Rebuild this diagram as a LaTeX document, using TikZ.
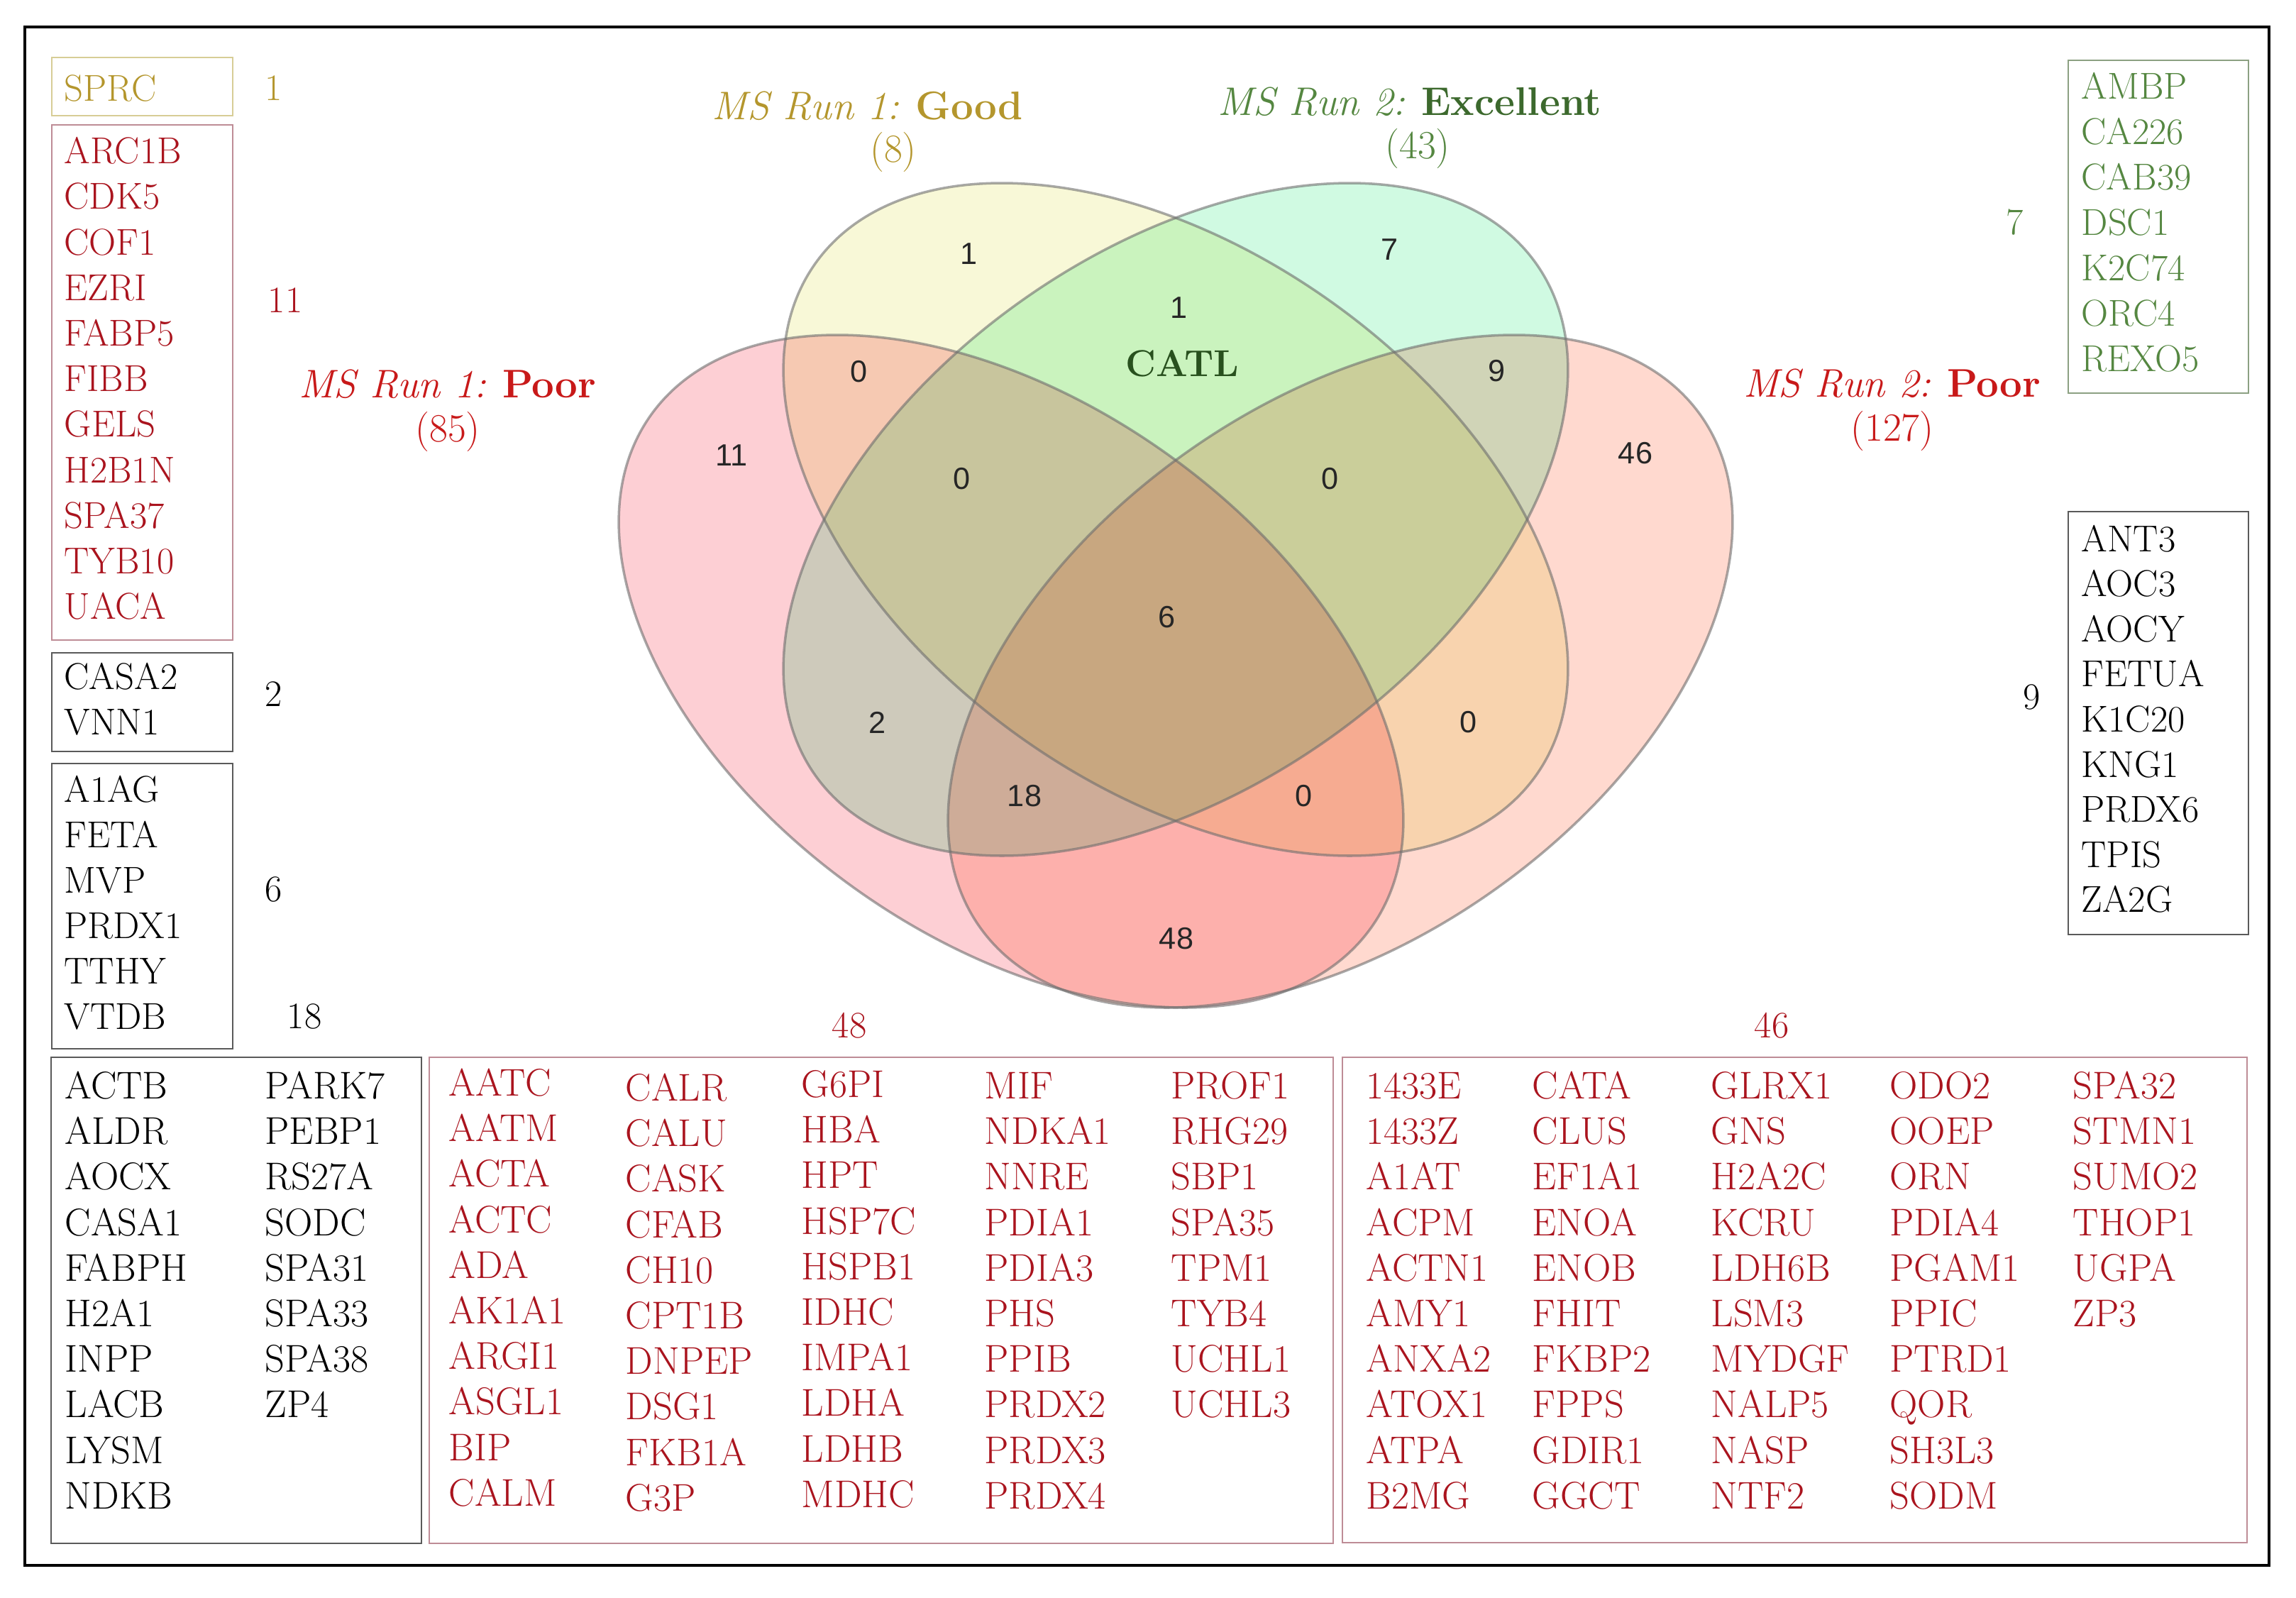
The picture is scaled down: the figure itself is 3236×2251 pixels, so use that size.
\documentclass[tikz,border=0pt]{standalone}
\usepackage{fontspec}
\newfontfamily\arialf{Liberation Sans}
\newcommand\fsG{\fontsize{15pt}{18pt}\selectfont}
\newcommand\fsB{\fontsize{15.5pt}{18pt}\selectfont}
\newcommand\fsN{\arialf\fontsize{12.3pt}{14pt}\selectfont}
\newcommand\fsL{\fontsize{16pt}{19pt}\selectfont}
\definecolor{goldc}{RGB}{180,150,45}
\definecolor{redc}{RGB}{170,20,30}
\definecolor{redv}{RGB}{200,25,25}
\definecolor{greenc}{RGB}{85,135,65}
\definecolor{greend}{RGB}{60,105,45}
\definecolor{catlc}{RGB}{40,80,30}
\definecolor{fillY}{RGB}{248,248,215}
\definecolor{fillG}{RGB}{208,250,226}
\definecolor{fillL}{RGB}{253,207,212}
\definecolor{fillR}{RGB}{255,217,207}
\definecolor{edgec}{RGB}{110,110,110}
\definecolor{redbox}{RGB}{190,140,150}
\definecolor{blkbox}{RGB}{90,90,90}
\definecolor{grnbox}{RGB}{140,160,130}
\definecolor{goldbox}{RGB}{215,205,150}
\begin{document}
\begin{tikzpicture}[x=0.01cm,y=-0.01cm,
  gene/.style={anchor=base west, inner sep=0pt, font=\fsG},
  bgene/.style={anchor=base west, inner sep=0pt, font=\fsB},
  cnt/.style={anchor=center, inner sep=0pt, font=\fsG},
  vnum/.style={anchor=center, inner sep=0pt, font=\fsN, text=black!85},
  lbl/.style={anchor=center, inner sep=0pt, font=\fsL},
  venn/.style={line width=1pt, draw=edgec, draw opacity=0.6},
  listbox/.style={line width=0.8pt}]
\path[use as bounding box] (0,0) rectangle (3236,2251);
% outer frame
\draw[line width=0.9pt] (35,38) rectangle (3198,2206);

% ---------- Venn ellipses ----------
\begin{scope}[blend group=multiply]
\fill[fillL,rotate around={-35.4:(1425,946)}] (1425,946) ellipse [x radius=623,y radius=377];
\fill[fillR,rotate around={35.4:(1889,946)}] (1889,946) ellipse [x radius=623,y radius=377];
\fill[fillY,rotate around={-35.4:(1657,732)}] (1657,732) ellipse [x radius=623,y radius=377];
\fill[fillG,rotate around={35.4:(1657,732)}] (1657,732) ellipse [x radius=623,y radius=377];
\end{scope}
\draw[venn,rotate around={-35.4:(1425,946)}] (1425,946) ellipse [x radius=623,y radius=377];
\draw[venn,rotate around={35.4:(1889,946)}] (1889,946) ellipse [x radius=623,y radius=377];
\draw[venn,rotate around={-35.4:(1657,732)}] (1657,732) ellipse [x radius=623,y radius=377];
\draw[venn,rotate around={35.4:(1657,732)}] (1657,732) ellipse [x radius=623,y radius=377];

% Venn region counts
\node[vnum] (v1) at (1366,358) {1};
\node[vnum] (v7) at (1959,352) {7};
\node[vnum] (vyg) at (1662,434) {1};
\node[font=\bfseries\fsG, text=catlc, inner sep=0pt] (catl) at (1666,512) {CATL};
\node[vnum] (vyl) at (1211,524) {0};
\node[vnum] (v9) at (2109,523) {9};
\node[vnum] (v11) at (1031,642) {11};
\node[vnum] (v46) at (2305,639) {46};
\node[vnum] (vylg) at (1356,675) {0};
\node[vnum] (vygr) at (1875,675) {0};
\node[vnum] (v6) at (1645,870) {6};
\node[vnum] (v2) at (1237,1018) {2};
\node[vnum] (vyr) at (2070,1018) {0};
\node[vnum] (v18) at (1444,1122) {18};
\node[vnum] (vlr) at (1838,1122) {0};
\node[vnum] (v48) at (1658,1323) {48};

% Venn set labels
\node[lbl,text=goldc] (lg1) at (1223,149) {\textit{MS Run 1:} \textbf{Good}};
\node[lbl,text=goldc] (lg2) at (1259,214) {(8)};
\node[lbl,text=greenc] (le1) at (1987,143) {\textit{MS Run 2:} \textbf{\color{greend}Excellent}};
\node[lbl,text=greenc] (le2) at (1998,209) {(43)};
\node[lbl,text=redv] (lp1) at (631,541) {\textit{MS Run 1:} \textbf{Poor}};
\node[lbl,text=redv] (lp2) at (631,608) {(85)};
\node[lbl,text=redv] (lq1) at (2667,540) {\textit{MS Run 2:} \textbf{Poor}};
\node[lbl,text=redv] (lq2) at (2667,607) {(127)};

% ---------- left column ----------
\draw[listbox,draw=goldbox] (73,81) rectangle (328,163);
\node[gene,text=goldc] (sprc) at (90,142) {SPRC};
\node[cnt,text=goldc] (c1) at (386,124) {1};

\draw[listbox,draw=redbox] (73,176) rectangle (328,902);
\foreach \g [count=\i from 0] in {ARC1B,CDK5,COF1,EZRI,FABP5,FIBB,GELS,H2B1N,SPA37,TYB10,UACA}
  \node[gene,text=redc] (la\i) at (90,{212.6+64.2*\i+18}) {\g};
\node[cnt,text=redc] (c11) at (402,423) {11};

\draw[listbox,draw=blkbox] (73,920) rectangle (328,1059);
\foreach \g [count=\i from 0] in {CASA2,VNN1}
  \node[gene] (lb\i) at (90,{953.5+64*\i+18}) {\g};
\node[cnt] (c2) at (386,978) {2};

\draw[listbox,draw=blkbox] (73,1076) rectangle (328,1478);
\foreach \g [count=\i from 0] in {A1AG,FETA,MVP,PRDX1,TTHY,VTDB}
  \node[gene] (lc\i) at (90,{1112+64*\i+18}) {\g};
\node[cnt] (c6) at (386,1253) {6};
\node[cnt] (c18) at (429,1432) {18};

% ---------- right column ----------
\draw[listbox,draw=grnbox] (2915,85) rectangle (3169,554);
\foreach \g [count=\i from 0] in {AMBP,CA226,CAB39,DSC1,K2C74,ORC4,REXO5}
  \node[gene,text=greenc] (ra\i) at (2933,{121+64*\i+18}) {\g};
\node[cnt,text=greenc] (c7) at (2840,313) {7};

\draw[listbox,draw=blkbox] (2915,721) rectangle (3169,1317);
\foreach \g [count=\i from 0] in {ANT3,AOC3,AOCY,FETUA,K1C20,KNG1,PRDX6,TPIS,ZA2G}
  \node[gene] (rb\i) at (2933,{759+63.6*\i+18}) {\g};
\node[cnt] (c9) at (2864,982) {9};

% ---------- bottom boxes ----------
\draw[listbox,draw=blkbox] (72,1490) rectangle (594,2175);
\foreach \g [count=\i from 0] in {ACTB,ALDR,AOCX,CASA1,FABPH,H2A1,INPP,LACB,LYSM,NDKB}
  \node[bgene] (ba\i) at (91,{1530+64.2*\i+18.5}) {\g};
\foreach \g [count=\i from 0] in {PARK7,PEBP1,RS27A,SODC,SPA31,SPA33,SPA38,ZP4}
  \node[bgene] (bb\i) at (373,{1530+64.2*\i+18.5}) {\g};

\node[cnt,text=redc] (c48) at (1197,1445) {48};
\draw[listbox,draw=redbox] (605,1490) rectangle (1879,2175);
\foreach \g [count=\i from 0] in {AATC,AATM,ACTA,ACTC,ADA,AK1A1,ARGI1,ASGL1,BIP,CALM}
  \node[bgene,text=redc] (ma\i) at (632,{1526+64.2*\i+18.5}) {\g};
\foreach \g [count=\i from 0] in {CALR,CALU,CASK,CFAB,CH10,CPT1B,DNPEP,DSG1,FKB1A,G3P}
  \node[bgene,text=redc] (mb\i) at (881,{1533+64.2*\i+18.5}) {\g};
\foreach \g [count=\i from 0] in {G6PI,HBA,HPT,HSP7C,HSPB1,IDHC,IMPA1,LDHA,LDHB,MDHC}
  \node[bgene,text=redc] (mc\i) at (1129,{1528+64.2*\i+18.5}) {\g};
\foreach \g [count=\i from 0] in {MIF,NDKA1,NNRE,PDIA1,PDIA3,PHS,PPIB,PRDX2,PRDX3,PRDX4}
  \node[bgene,text=redc] (md\i) at (1387,{1530+64.2*\i+18.5}) {\g};
\foreach \g [count=\i from 0] in {PROF1,RHG29,SBP1,SPA35,TPM1,TYB4,UCHL1,UCHL3}
  \node[bgene,text=redc] (me\i) at (1650,{1530+64.2*\i+18.5}) {\g};

\node[cnt,text=redc] (c46) at (2497,1445) {46};
\draw[listbox,draw=redbox] (1892,1490) rectangle (3167,2174);
\foreach \g [count=\i from 0] in {1433E,1433Z,A1AT,ACPM,ACTN1,AMY1,ANXA2,ATOX1,ATPA,B2MG}
  \node[bgene,text=redc] (na\i) at (1925,{1530+64.2*\i+18.5}) {\g};
\foreach \g [count=\i from 0] in {CATA,CLUS,EF1A1,ENOA,ENOB,FHIT,FKBP2,FPPS,GDIR1,GGCT}
  \node[bgene,text=redc] (nb\i) at (2159,{1530+64.2*\i+18.5}) {\g};
\foreach \g [count=\i from 0] in {GLRX1,GNS,H2A2C,KCRU,LDH6B,LSM3,MYDGF,NALP5,NASP,NTF2}
  \node[bgene,text=redc] (nc\i) at (2411,{1530+64.2*\i+18.5}) {\g};
\foreach \g [count=\i from 0] in {ODO2,OOEP,ORN,PDIA4,PGAM1,PPIC,PTRD1,QOR,SH3L3,SODM}
  \node[bgene,text=redc] (nd\i) at (2663,{1530+64.2*\i+18.5}) {\g};
\foreach \g [count=\i from 0] in {SPA32,STMN1,SUMO2,THOP1,UGPA,ZP3}
  \node[bgene,text=redc] (ne\i) at (2921,{1530+64.2*\i+18.5}) {\g};
\end{tikzpicture}
\end{document}
